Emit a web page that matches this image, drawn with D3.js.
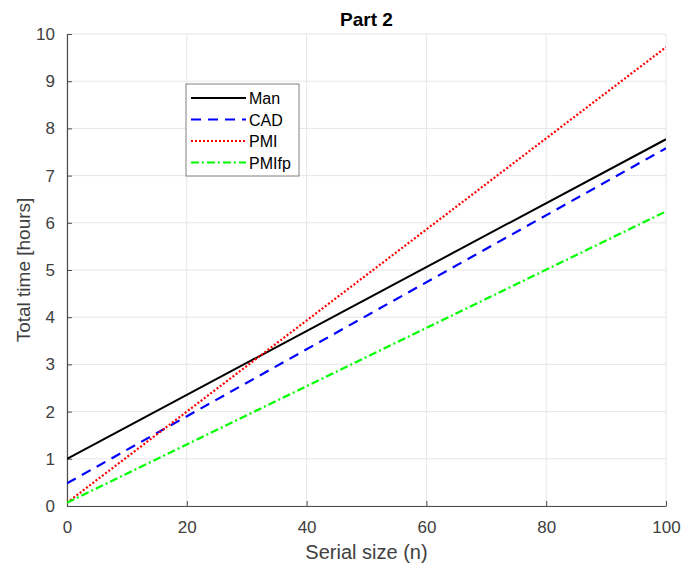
<!DOCTYPE html>
<html><head><meta charset="utf-8">
<script src="https://cdn.jsdelivr.net/npm/d3@7"></script>
<style>body{margin:0;background:#fff}svg{display:block}</style>
</head><body>
<svg id="c" width="683" height="568"></svg>
<script>
const serialSize = [0, 100];
const manValues = [1.0, 7.77];
const cadValues = [0.48, 7.58];
const pmiValues = [0.07, 9.72];
const pmifpValues = [0.07, 6.24];
const xTicks = [0, 20, 40, 60, 80, 100];
const yTicks = [0,1,2,3,4,5,6,7,8,9,10];
const seriesNames = ["Man", "CAD", "PMI", "PMIfp"];

const series = [
  {name: seriesNames[0], values: manValues, color: "#000000", dash: null, w: 2},
  {name: seriesNames[1], values: cadValues, color: "#0000ff", dash: "10,7", w: 2.2},
  {name: seriesNames[2], values: pmiValues, color: "#ff0000", dash: "2,2", w: 2.2},
  {name: seriesNames[3], values: pmifpValues, color: "#00ff00", dash: "8,3,2,3", w: 2.2}
];

const svg = d3.select("#c");
const m = {l: 67, r: 666, t: 34, b: 506};
const x = d3.scaleLinear().domain([0, 100]).range([m.l, m.r]);
const y = d3.scaleLinear().domain([0, 10]).range([m.b, m.t]);
const font = "Liberation Sans, Arial, sans-serif";

// grid
const g = svg.append("g");
g.selectAll(".gx").data(xTicks).enter().append("line")
  .attr("x1", d=>x(d)).attr("x2", d=>x(d)).attr("y1", m.t).attr("y2", m.b)
  .attr("stroke", "#e6e6e6").attr("stroke-width", 1);
g.selectAll(".gy").data(yTicks).enter().append("line")
  .attr("x1", m.l).attr("x2", m.r).attr("y1", d=>y(d)).attr("y2", d=>y(d))
  .attr("stroke", "#e6e6e6").attr("stroke-width", 1);

// axes
const xAxis = d3.axisBottom(x).tickValues(xTicks).tickSizeInner(-5).tickSizeOuter(0).tickPadding(15);
const yAxis = d3.axisLeft(y).tickValues(yTicks).tickSizeInner(-5).tickSizeOuter(0).tickPadding(12);
const xa = svg.append("g").attr("transform", `translate(0,${m.b})`).call(xAxis);
const ya = svg.append("g").attr("transform", `translate(${m.l},0)`).call(yAxis);
[xa, ya].forEach(a => {
  a.select(".domain").attr("stroke", "#4d4d4d").attr("stroke-width", 1.2);
  a.selectAll(".tick line").attr("stroke", "#4d4d4d");
  a.selectAll(".tick text").attr("fill", "#404040").style("font-size", "17px").style("font-family", font);
});

// lines
const clip = svg.append("clipPath").attr("id", "pc").append("rect")
  .attr("x", m.l).attr("y", m.t).attr("width", m.r - m.l).attr("height", m.b - m.t);
const line = d3.line().x((d,i)=>x(serialSize[i])).y(d=>y(d));
series.forEach(s => {
  svg.append("path").datum(s.values).attr("d", line)
    .attr("fill", "none").attr("stroke", s.color).attr("stroke-width", s.w)
    .attr("stroke-dasharray", s.dash).attr("clip-path", "url(#pc)");
});

// title and labels
svg.append("text").attr("x", (m.l + m.r)/2).attr("y", 26).attr("text-anchor", "middle")
  .style("font-family", font).style("font-size", "19px").style("font-weight", "bold").attr("fill", "#000").text("Part 2");
svg.append("text").attr("x", (m.l + m.r)/2).attr("y", 559).attr("text-anchor", "middle")
  .style("font-family", font).style("font-size", "20px").attr("fill", "#404040").text("Serial size (n)");
svg.append("text").attr("transform", `translate(30,${(m.t+m.b)/2}) rotate(-90)`).attr("text-anchor", "middle")
  .style("font-family", font).style("font-size", "19px").attr("fill", "#404040").text("Total time [hours]");

// legend
const lg = svg.append("g");
lg.append("rect").attr("x", 186).attr("y", 84).attr("width", 113).attr("height", 92)
  .attr("fill", "#fff").attr("stroke", "#808080").attr("stroke-width", 1);
series.forEach((s, i) => {
  const yy = 98 + i * 21.5;
  lg.append("line").attr("x1", 191).attr("x2", 246).attr("y1", yy).attr("y2", yy)
    .attr("stroke", s.color).attr("stroke-width", s.w).attr("stroke-dasharray", s.dash);
  lg.append("text").attr("x", 249).attr("y", yy + 6).style("font-family", font)
    .style("font-size", "16px").attr("fill", "#000").text(s.name);
});
</script>
</body></html>
